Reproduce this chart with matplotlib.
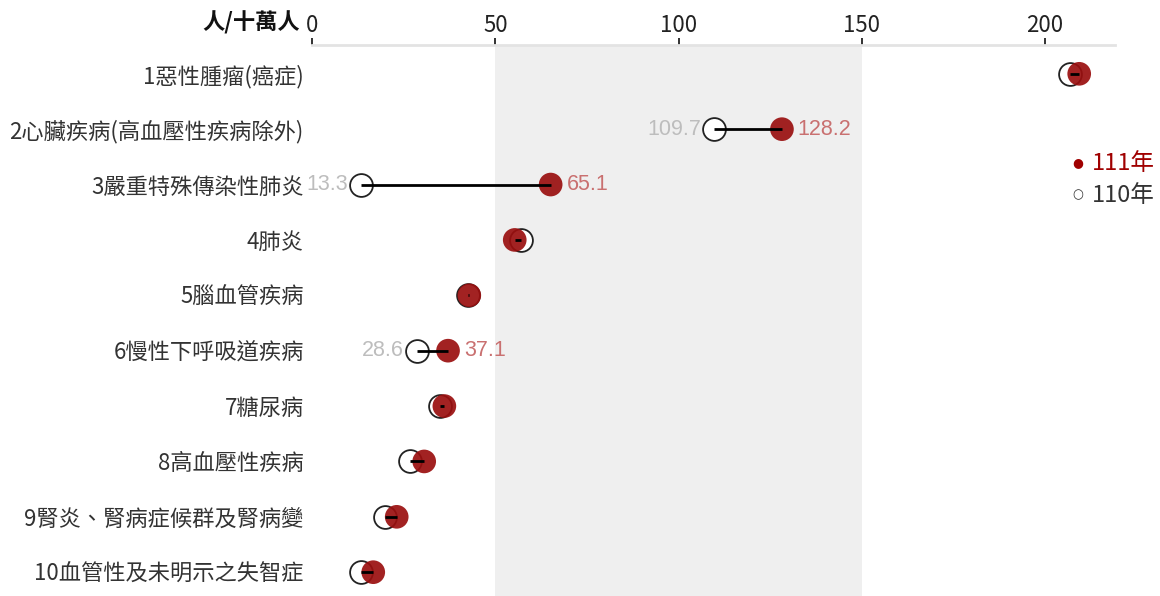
import matplotlib
matplotlib.use("Agg")
import matplotlib.pyplot as plt

categories = ["1惡性腫瘤(癌症)", "2心臟疾病(高血壓性疾病除外)", "3嚴重特殊傳染性肺炎", "4肺炎",
              "5腦血管疾病", "6慢性下呼吸道疾病", "7糖尿病", "8高血壓性疾病",
              "9腎炎、腎病症候群及腎病變", "10血管性及未明示之失智症"]
rate_110 = [206.8, 109.7, 13.3, 57.0, 42.5, 28.6, 34.9, 26.7, 19.9, 13.3]
rate_111 = [209.3, 128.2, 65.1, 55.3, 42.9, 37.1, 36.1, 30.6, 23.1, 16.7]
labeled = [1, 2, 5]
xticks = [0, 50, 100, 150, 200]

CJK = ["Noto Sans CJK TC", "DejaVu Sans"]
NUM = ["Liberation Sans", "Noto Sans CJK TC"]

fig = plt.figure(figsize=(11.6, 5.96), dpi=100)
ax = fig.add_axes([0.269, 0.0, 0.692, 0.9245])
ax.set_xlim(0, 219)
ax.set_ylim(9.43, -0.52)

ax.axvspan(50, 150, color="#efefef", zorder=0, lw=0)

ys = list(range(len(categories)))
ax.scatter(rate_110, ys, s=270, facecolor="white", edgecolor="#222222", linewidth=1.3, zorder=2)
ax.scatter(rate_111, ys, s=290, facecolor="#9a0f0f", edgecolor="none", alpha=0.92, zorder=3)
for y, a, b in zip(ys, rate_110, rate_111):
    ax.plot([a, b], [y, y], color="black", lw=2, zorder=4, solid_capstyle="butt")

for i in labeled:
    ax.text(rate_110[i] - 3.6, i, f"{rate_110[i]:.1f}", ha="right", va="center",
            fontsize=15.5, color="#bdbdbd", family=NUM, zorder=5)
    ax.text(rate_111[i] + 4.3, i, f"{rate_111[i]:.1f}", ha="left", va="center",
            fontsize=15.5, color="#c97070", family=NUM, zorder=5)

ax.set_yticks(ys)
ax.set_yticklabels(categories, family=CJK, fontsize=16, color="#333333")
ax.tick_params(axis="y", length=0, pad=6)

ax.xaxis.tick_top()
ax.set_xticks(xticks)
ax.set_xticklabels([str(t) for t in xticks], family=CJK, fontsize=16, color="#222222")
ax.tick_params(axis="x", length=5, width=1.3, color="#222222", pad=1)

for s in ["left", "right", "bottom"]:
    ax.spines[s].set_visible(False)
ax.spines["top"].set_color("#e3e3e3")
ax.spines["top"].set_linewidth(2)

fig.text(300 / 1160, 1 - 23 / 596, "人/十萬人", ha="right", va="center",
         fontsize=16, fontweight="bold", family=CJK, color="#111111")

fig.text(1078 / 1160, 1 - 163 / 596, "●", ha="center", va="center",
         fontsize=9, family=["DejaVu Sans"], color="#a00000")
fig.text(1092 / 1160, 1 - 163 / 596, "111年", ha="left", va="center",
         fontsize=17, family=CJK, color="#a00000")
fig.text(1078 / 1160, 1 - 195 / 596, "○", ha="center", va="center",
         fontsize=9, family=["DejaVu Sans"], color="#333333")
fig.text(1092 / 1160, 1 - 195 / 596, "110年", ha="left", va="center",
         fontsize=17, family=CJK, color="#333333")

fig.savefig("out.png", dpi=100)
